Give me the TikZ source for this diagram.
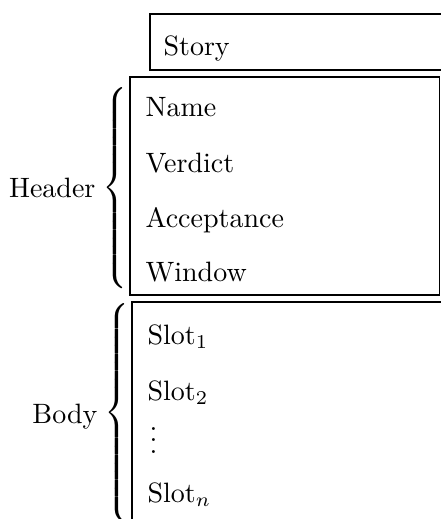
\documentclass[tikz,border=0pt]{standalone}
\usepackage{amsmath}
\tikzset{
  field/.style={anchor=base west, inner sep=0pt, font=\rmfamily},
  side/.style={anchor=base east, inner sep=0pt, font=\rmfamily},
  bracenode/.style={anchor=east, inner sep=0pt},
  frame/.style={draw=black, line width=0.55pt}
}
\newcommand{\lbracebox}[1]{$\delimitershortfall=0pt\delimiterfactor=1000\left\{\vcenter{\hbox{\rule{0pt}{#1}}}\right.\kern-\nulldelimiterspace$}
\begin{document}
\begin{tikzpicture}[x=0.357143pt, y=-0.357143pt]
  \useasboundingbox (0,0) rectangle (441,519);
  \clip (0,0) rectangle (441,519);

  % record boxes
  \draw[frame] (460,14) -- (150,14) -- (150,70) -- (460,70);
  \draw[frame] (130,77) rectangle (439.5,295);
  \draw[frame] (460,302) -- (132,302) -- (132,540);

  % title box
  \node[field] (story) at (163,55) {Story};

  % header fields
  \node[field] (name)   at (145,116) {Name};
  \node[field] (verd)   at (145,172) {Verdict};
  \node[field] (accept) at (145,227) {Acceptance};
  \node[field] (window) at (145,281) {Window};

  % body fields
  \node[field] (slot1) at (147,344) {Slot$_1$};
  \node[field] (slot2) at (147,400) {Slot$_2$};
  \node[field] (dots)  at (149,453) {$\vdots$};
  \node[field] (slotn) at (147,502) {Slot$_n$};

  % group braces and their labels
  \node[bracenode] (hbrace) at (128,188) {\lbracebox{71pt}};
  \node[side] (header) at (96,197) {Header};
  \node[bracenode] (bbrace) at (130,413) {\lbracebox{78pt}};
  \node[side] (body) at (98,423) {Body};
\end{tikzpicture}
\end{document}
